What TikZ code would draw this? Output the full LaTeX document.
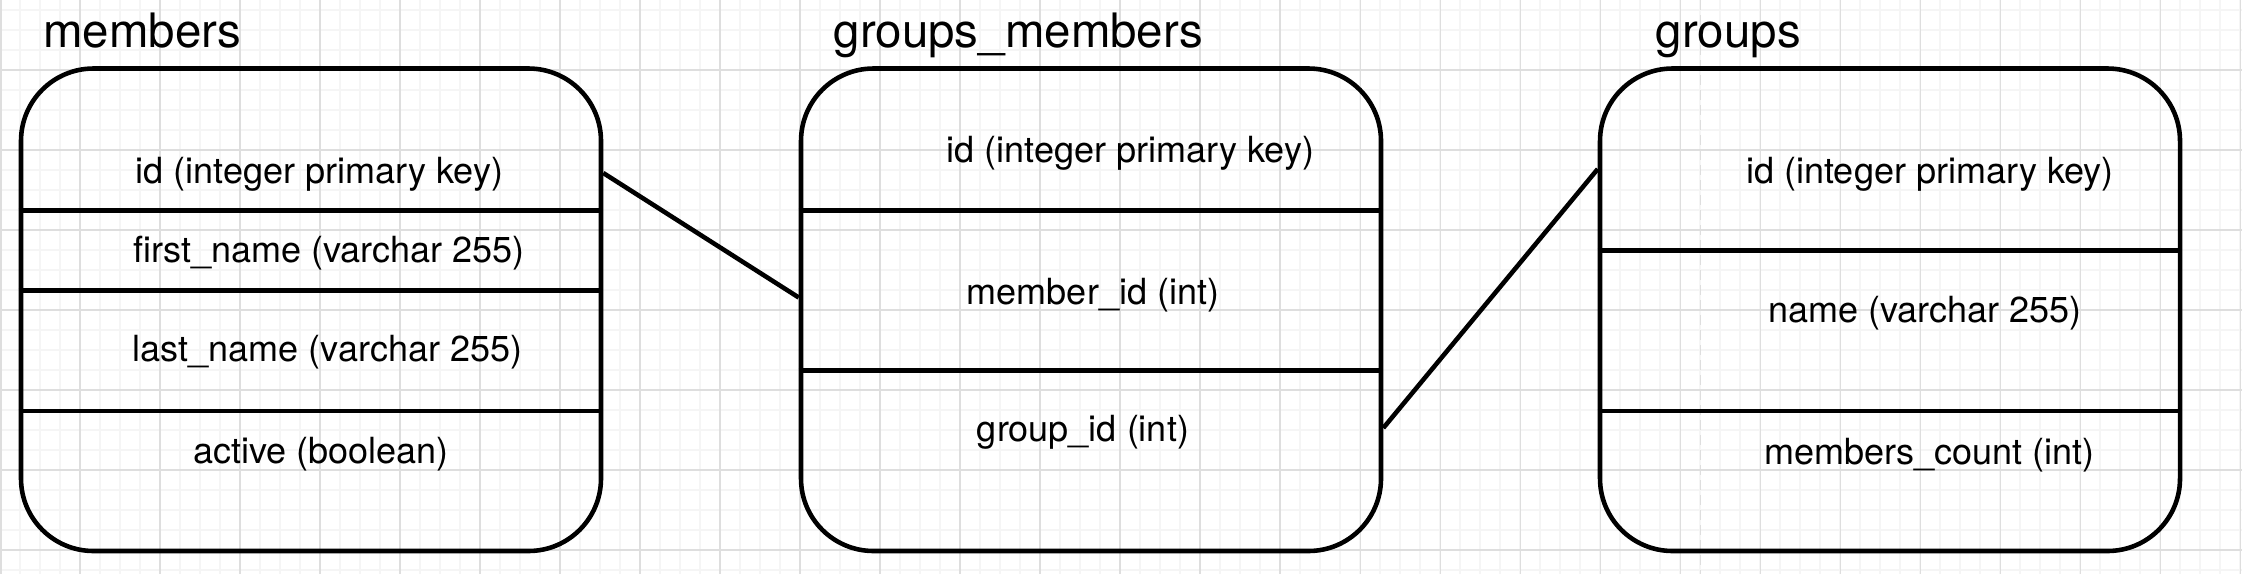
\documentclass[tikz,border=0pt]{standalone}
\usepackage{fontspec}
\setmainfont{TeX Gyre Heros}
\definecolor{minorgrid}{HTML}{F5F5F5}
\definecolor{majorgrid}{HTML}{DEDEDE}
\tikzset{
  tbl/.style={draw,line width=2.6pt,rounded corners=1.45cm,minimum width=11.6cm,minimum height=9.65cm},
  fld/.style={font=\fontsize{20.5}{24}\selectfont},
  ttl/.style={anchor=base west,inner sep=0pt,font=\fontsize{27}{32}\selectfont},
  rowline/.style={line width=2.6pt},
  link/.style={line width=2.6pt},
}
\begin{document}
\begin{tikzpicture}
\useasboundingbox(0,0)rectangle(44.84,-11.48);
\fill[white](0,0)rectangle(44.84,-11.48);
% grid
\foreach \k in {0,...,112}
  \draw[minorgrid,line width=1.5pt](\k*0.4,0)--(\k*0.4,-11.48);
\foreach \k in {0,...,28}
  \draw[minorgrid,line width=1.5pt](0,-0.2-\k*0.4)--(44.84,-0.2-\k*0.4);
\foreach \k in {0,...,28}
  \draw[majorgrid,line width=0.6pt](\k*1.6,0)--(\k*1.6,-11.48);
\foreach \k in {0,...,6}
  \draw[majorgrid,line width=0.6pt](0,-1.4-\k*1.6)--(44.84,-1.4-\k*1.6);
\draw[majorgrid,line width=1.2pt](0.02,0)--(0.02,-11.48);
\draw[majorgrid,line width=0.6pt,dash pattern=on 0.2cm off 0.1cm](34.0,0)--(34.0,-11.48);
% tables
\node[tbl](members)at(6.22,-6.195){};
\node[tbl](gm)at(21.82,-6.195){};
\node[tbl](groups)at(37.8,-6.195){};
\node[ttl](members-title)at(0.86,-0.945){members};
\node[ttl](gm-title)at(16.67,-0.945){groups\_members};
\node[ttl](groups-title)at(33.11,-0.945){groups};
% rows
\draw[rowline](members.west|-0,-4.21)--(members.east|-0,-4.21);
\draw[rowline](members.west|-0,-5.81)--(members.east|-0,-5.81);
\draw[rowline](members.west|-0,-8.22)--(members.east|-0,-8.22);
\draw[rowline](gm.west|-0,-4.21)--(gm.east|-0,-4.21);
\draw[rowline](gm.west|-0,-7.41)--(gm.east|-0,-7.41);
\draw[rowline](groups.west|-0,-5.01)--(groups.east|-0,-5.01);
\draw[rowline](groups.west|-0,-8.22)--(groups.east|-0,-8.22);
% fields
\node[fld](m-id)at(6.39,-3.49){id (integer primary key)};
\node[fld](m-first)at(6.58,-5.07){first\_name (varchar 255)};
\node[fld](m-last)at(6.55,-7.04){last\_name (varchar 255)};
\node[fld](m-active)at(6.42,-9.08){active (boolean)};
\node[fld](gm-id)at(22.61,-3.06){id (integer primary key)};
\node[fld](gm-member)at(21.86,-5.90){member\_id (int)};
\node[fld](gm-group)at(21.66,-8.65){group\_id (int)};
\node[fld](g-id)at(38.6,-3.49){id (integer primary key)};
\node[fld](g-name)at(38.5,-6.27){name (varchar 255)};
\node[fld](g-count)at(38.59,-9.10){members\_count (int)};
% links
\coordinate(members-out)at(members.east|-0,-3.46);
\coordinate(gm-in)at(gm.west|-0,-5.95);
\coordinate(gm-out)at(gm.east|-0,-8.56);
\coordinate(groups-in)at(groups.west|-0,-3.38);
\draw[link](members-out)--(gm-in);
\draw[link](gm-out)--(groups-in);
\end{tikzpicture}
\end{document}
